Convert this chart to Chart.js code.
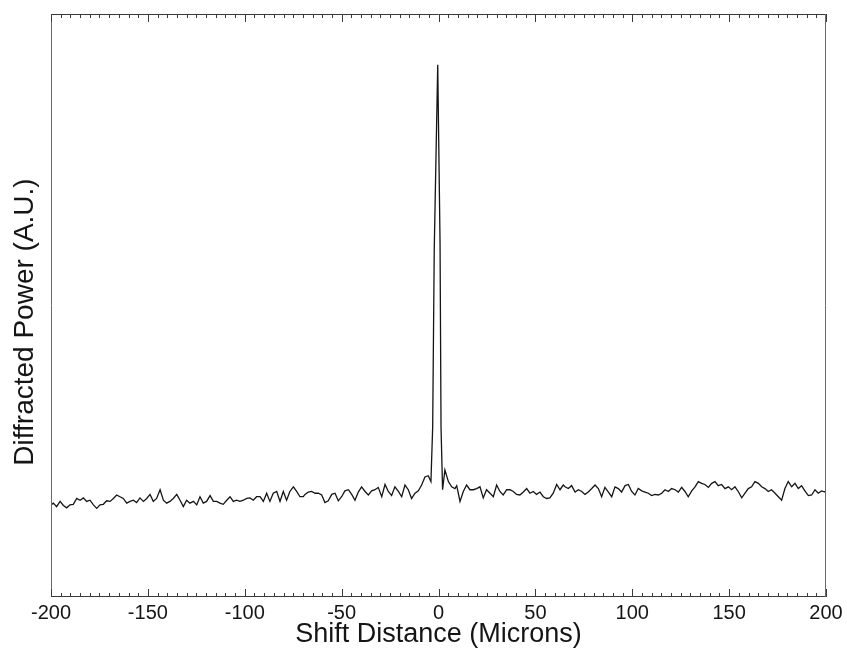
<!DOCTYPE html>
<html>
<head>
<meta charset="utf-8">
<script src="https://cdn.jsdelivr.net/npm/chart.js@4/dist/chart.umd.min.js"></script>
<style>
  html, body { margin: 0; padding: 0; background: #ffffff; }
  #wrap { width: 847px; height: 656px; }
</style>
</head>
<body>
<div id="wrap"><canvas id="chart" width="847" height="656"></canvas></div>
<script>
// Shift position of each sample, in microns
const shiftMicrons = [
  -200.0, -198.8, -197.1, -195.3, -193.6, -191.9, -190.2, -188.5, -186.7, -185.0,
  -183.3, -181.6, -179.9, -178.1, -176.4, -174.7, -173.0, -171.3, -169.5, -167.8,
  -166.1, -164.4, -162.7, -160.9, -159.2, -157.5, -155.8, -154.1, -152.3, -150.6,
  -148.9, -147.2, -145.5, -143.7, -142.0, -140.3, -138.6, -136.9, -135.1, -133.4,
  -131.7, -130.0, -128.3, -126.5, -124.8, -123.1, -121.4, -119.7, -117.9, -116.2,
  -114.5, -112.8, -111.1, -109.3, -107.6, -105.9, -104.2, -102.5, -100.7, -99.0,
  -97.3, -95.6, -93.9, -92.1, -90.4, -88.7, -87.0, -85.3, -83.5, -81.8,
  -80.1, -78.4, -76.7, -74.9, -73.2, -71.5, -69.8,
  -68.9, -67.2, -65.5, -63.7, -62.0, -60.3, -58.6, -56.9, -55.1, -53.4,
  -51.7, -50.0, -48.3, -46.5, -44.8, -43.1, -41.4, -39.7, -37.9, -36.2,
  -34.5, -32.8, -31.1, -29.3, -27.6, -25.9, -24.2, -22.5, -20.7, -19.0,
  -17.3, -15.6, -13.9, -12.1, -10.4, -8.7, -7.0, -5.3, -3.9,
  -3.0, -2.2, -0.4, 0.8, 1.3, 2.1, 3.3,
  5.1, 6.8, 8.5, 9.4, 11.1, 12.8, 14.5, 16.2, 18.0, 19.7,
  21.4, 23.1, 24.8, 26.6, 28.3, 30.0, 31.7, 33.4, 35.2, 36.9,
  38.6, 40.3, 42.0, 43.8, 45.5, 47.2, 48.9, 50.6, 52.4, 54.1,
  55.8, 57.5, 59.2, 61.0, 62.7, 64.4,
  65.3, 67.0, 68.7, 70.5, 72.2, 73.9, 75.6, 77.3, 79.1, 80.8,
  82.5, 84.2, 85.9, 87.7, 89.4, 91.1, 92.8, 94.5, 96.3, 98.0,
  99.7, 101.4, 103.1, 104.9, 106.6, 108.3, 110.0, 111.7, 113.5, 115.2,
  116.9, 118.6, 120.3, 122.1, 123.8, 125.5, 127.2, 128.9, 130.7, 132.4,
  134.1, 135.8, 137.5, 139.3, 141.0, 142.7, 144.4, 146.1, 147.9, 149.6,
  151.3, 153.0, 154.7, 156.5, 158.2, 159.9, 161.6, 163.3, 165.1, 166.8,
  168.5, 170.2, 171.9, 173.7, 175.4, 177.1, 178.8, 180.5, 182.3, 184.0,
  185.7, 187.4, 189.1, 190.9, 192.6, 194.3, 196.0, 197.7, 199.5, 200.0
];

// Diffracted power at each shift (arbitrary units)
const diffractedPower = [
  15.8, 16.1, 15.5, 16.4, 15.7, 15.3, 15.8, 15.9, 16.9, 16.6,
  17.0, 16.4, 16.6, 15.8, 15.2, 15.8, 15.9, 16.5, 16.4, 16.9,
  17.5, 17.2, 16.9, 16.1, 16.4, 16.6, 16.2, 17.0, 16.4, 16.9,
  17.6, 16.4, 16.9, 18.4, 16.6, 16.1, 16.4, 16.9, 17.6, 16.6,
  15.5, 16.6, 16.1, 16.4, 15.8, 17.2, 16.1, 16.4, 17.4, 16.4,
  16.4, 16.1, 15.9, 16.6, 17.2, 16.4, 16.6, 16.4, 16.6, 16.9,
  17.0, 16.6, 17.2, 17.2, 16.4, 17.8, 16.4, 17.8, 18.1, 16.4,
  18.1, 16.6, 18.1, 18.9, 18.1, 17.2, 17.2,
  17.6, 18.0, 18.1, 17.8, 17.8, 17.5, 16.2, 16.5, 17.6, 17.8,
  16.5, 17.2, 18.2, 18.4, 17.6, 16.6, 18.0, 18.9, 18.1, 17.5,
  18.2, 18.4, 18.8, 17.2, 19.3, 18.1, 17.4, 18.9, 18.1, 17.2,
  19.2, 18.4, 16.9, 17.8, 18.2, 19.2, 20.6, 20.8, 19.8,
  29.2, 59.5, 91.3, 60.7, 29.2, 18.4, 21.8,
  19.8, 18.9, 18.6, 19.1, 16.4, 18.1, 19.2, 18.4, 18.4, 18.6,
  18.9, 17.0, 18.4, 17.8, 17.2, 19.2, 18.1, 17.5, 18.4, 18.4,
  18.1, 17.6, 17.5, 18.0, 18.6, 17.8, 18.1, 17.6, 18.0, 17.2,
  16.9, 17.0, 17.8, 19.3, 18.4, 19.2,
  18.9, 18.6, 19.1, 18.0, 18.4, 18.1, 17.6, 18.0, 18.6, 19.2,
  18.6, 17.2, 18.8, 18.0, 17.2, 18.9, 18.6, 18.0, 19.1, 19.3,
  18.1, 17.5, 18.6, 18.2, 18.0, 17.8, 17.4, 17.6, 17.5, 17.8,
  18.4, 18.1, 18.6, 18.4, 18.0, 18.8, 18.1, 17.2, 18.2, 18.9,
  19.8, 19.5, 19.3, 18.8, 19.5, 19.8, 19.1, 19.3, 18.6, 18.9,
  18.4, 18.9, 18.1, 17.0, 17.8, 18.6, 18.9, 19.8, 19.5, 18.9,
  18.6, 18.1, 18.4, 17.8, 17.2, 16.6, 18.6, 19.8, 18.9, 19.5,
  18.6, 19.1, 18.2, 17.4, 17.5, 18.4, 17.8, 18.2, 18.0, 18.4
];

// Labelled x ticks
const xTickLabels = [-200, -150, -100, -50, 0, 50, 100, 150, 200];

const FONT = '"Liberation Sans", Arial, Helvetica, sans-serif';
const INK = '#151515';

// Box frame with inward tick marks on top and bottom edges
const frameAndTicks = {
  id: 'frameAndTicks',
  afterDatasetsDraw(chart) {
    const { ctx, chartArea: a, scales: { x } } = chart;
    ctx.save();
    ctx.lineWidth = 1;
    ctx.strokeStyle = '#3a3a3a';
    ctx.beginPath();
    ctx.moveTo(a.left, a.top + 0.5); ctx.lineTo(a.right, a.top + 0.5);
    ctx.moveTo(a.left, a.bottom - 0.5); ctx.lineTo(a.right, a.bottom - 0.5);
    ctx.stroke();
    ctx.strokeStyle = '#6a6a6a';
    ctx.beginPath();
    ctx.moveTo(a.left + 0.5, a.top); ctx.lineTo(a.left + 0.5, a.bottom);
    ctx.moveTo(a.right - 0.5, a.top); ctx.lineTo(a.right - 0.5, a.bottom);
    ctx.stroke();
    ctx.strokeStyle = '#3a3a3a';
    ctx.beginPath();
    for (let v = -200; v <= 200; v += 5) {
      const px = Math.round(x.getPixelForValue(v)) + 0.5;
      const len = (v % 50 === 0) ? 8 : 4;
      ctx.moveTo(px, a.bottom); ctx.lineTo(px, a.bottom - len);
      ctx.moveTo(px, a.top); ctx.lineTo(px, a.top + len);
    }
    ctx.stroke();
    ctx.restore();
  }
};

// Rotated y-axis caption
const yCaption = {
  id: 'yCaption',
  afterDraw(chart) {
    const { ctx } = chart;
    ctx.save();
    ctx.translate(25, 322);
    ctx.rotate(-Math.PI / 2);
    ctx.font = '28px ' + FONT;
    ctx.fillStyle = INK;
    ctx.textAlign = 'center';
    ctx.textBaseline = 'middle';
    ctx.fillText('Diffracted Power (A.U.)', 0, 0);
    ctx.restore();
  }
};

new Chart(document.getElementById('chart'), {
  type: 'line',
  data: {
    datasets: [{
      data: shiftMicrons.map((s, i) => ({ x: s, y: diffractedPower[i] })),
      borderColor: INK,
      borderWidth: 1.3,
      pointRadius: 0,
      tension: 0,
      fill: false
    }]
  },
  options: {
    responsive: false,
    animation: false,
    devicePixelRatio: 1,
    layout: { padding: { top: 14, right: 21, left: 0, bottom: 0 } },
    plugins: { legend: { display: false }, tooltip: { enabled: false } },
    scales: {
      x: {
        type: 'linear',
        min: -200,
        max: 200,
        afterBuildTicks: (s) => { s.ticks = xTickLabels.map(v => ({ value: v })); },
        ticks: {
          font: { family: FONT, size: 20 },
          color: INK,
          padding: 4,
          maxRotation: 0,
          autoSkip: false
        },
        grid: { display: false, drawTicks: false },
        border: { display: false },
        title: {
          display: true,
          text: 'Shift Distance (Microns)',
          font: { family: FONT, size: 27 },
          color: INK,
          padding: { top: 0, bottom: 5 }
        },
        afterFit: (s) => { s.height = 59; }
      },
      y: {
        min: 0,
        max: 100,
        ticks: { display: false },
        grid: { display: false, drawTicks: false },
        border: { display: false },
        afterFit: (s) => { s.width = 51; }
      }
    }
  },
  plugins: [frameAndTicks, yCaption]
});
</script>
</body>
</html>
